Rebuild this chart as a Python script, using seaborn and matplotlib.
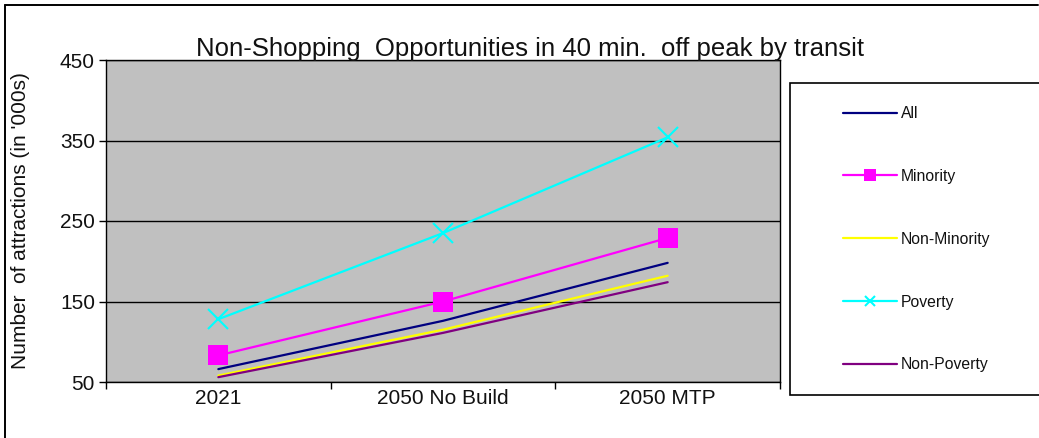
import matplotlib
matplotlib.use("Agg")
import matplotlib.pyplot as plt
from matplotlib.lines import Line2D
from matplotlib.patches import Rectangle
import seaborn as sns
import pandas as pd

# Scenarios and accessible non-shopping attractions (thousands)
scenarios = ["2021", "2050 No Build", "2050 MTP"]
all_pop = [66, 126, 198]
minority = [83, 150, 229]
non_minority = [58, 115, 182]
poverty = [128, 235, 354]
non_poverty = [56, 111, 174]

series_names = ["All", "Minority", "Non-Minority", "Poverty", "Non-Poverty"]
series_values = [all_pop, minority, non_minority, poverty, non_poverty]
colors = ["#000080", "#FF00FF", "#FFFF00", "#00FFFF", "#800080"]
markers = [None, "s", None, "x", None]
marker_sizes = [0, 14.5, 0, 14, 0]

sns.set_theme(style="white")
plt.rcParams["font.family"] = ["Liberation Sans", "DejaVu Sans"]

rows = []
for name, vals in zip(series_names, series_values):
    for sc, v in zip(scenarios, vals):
        rows.append({"Scenario": sc, "Group": name, "Value": v})
df = pd.DataFrame(rows)

fig = plt.figure(figsize=(10.39, 4.38), dpi=100)
fig.patch.set_facecolor("white")

# chart-area border (top and left edges)
fig.add_artist(Line2D([5 / 1039, 5 / 1039], [0, 1 - 5 / 438],
                      transform=fig.transFigure, color="black", lw=1.4))
fig.add_artist(Line2D([5 / 1039, 1038 / 1039], [1 - 5 / 438, 1 - 5 / 438],
                      transform=fig.transFigure, color="black", lw=1.4))

ax = fig.add_axes([106 / 1039, 1 - 382 / 438, 674 / 1039, 322 / 438])
ax.set_facecolor("#C0C0C0")

for name, col, mk, ms in zip(series_names, colors, markers, marker_sizes):
    sub = df[df["Group"] == name]
    kw = {}
    if mk is not None:
        kw = dict(marker=mk, markersize=ms, markeredgecolor=col,
                  markerfacecolor=col, markeredgewidth=1.5 if mk == "x" else 0)
    sns.lineplot(data=sub, x="Scenario", y="Value", color=col, lw=1.6,
                 ax=ax, label=name, **kw)

ax.set_xlim(-0.5, 2.5)
ax.set_ylim(50, 450)
ax.set_yticks([50, 150, 250, 350, 450])
ax.set_xticks([-0.5, 0.5, 1.5, 2.5])
ax.set_xticklabels([])
ax.set_xticks([0, 1, 2], minor=True)
ax.set_xticklabels(scenarios, minor=True, fontsize=15)
ax.tick_params(axis="x", which="major", length=5, width=1, color="black",
               direction="out", bottom=True)
ax.tick_params(axis="x", which="minor", length=0, pad=5)
ax.tick_params(axis="y", length=5, width=1, color="black", direction="out",
               left=True, labelsize=15, pad=3)
for t in ax.get_yticklabels() + ax.get_xticklabels(minor=True):
    t.set_color("#111111")

ax.yaxis.grid(True, color="black", lw=1)
ax.xaxis.grid(False)
for s in ax.spines.values():
    s.set_color("black")
    s.set_linewidth(1)

ax.set_xlabel("")
ax.set_ylabel("Number  of attractions (in '000s)", fontsize=15,
              color="#111111")
ax.yaxis.set_label_coords(-(106 - 30) / 674, 0.5)
ax.set_title("Non-Shopping  Opportunities in 40 min.  off peak by transit",
             fontsize=18.5, color="#111111", pad=3,
             x=(530 - 106) / 674, ha="center")

handles, labels = ax.get_legend_handles_labels()
ax.get_legend().remove()

# legend frame runs off the right edge of the chart
fig.add_artist(Rectangle((790 / 1039, 1 - 395 / 438), 260 / 1039, 312 / 438,
                         transform=fig.transFigure, facecolor="white",
                         edgecolor="black", lw=1.2, clip_on=False))
leg = fig.legend(handles, labels, loc="upper left",
                 bbox_to_anchor=(843 / 1039, 1 - 106 / 438),
                 fontsize=11.3, labelspacing=3.05,
                 handlelength=3.45, handletextpad=0.25, borderpad=0,
                 frameon=False, borderaxespad=0, markerscale=0.55)
for txt in leg.get_texts():
    txt.set_color("#111111")

fig.savefig("out.png", dpi=100, facecolor=fig.get_facecolor())
